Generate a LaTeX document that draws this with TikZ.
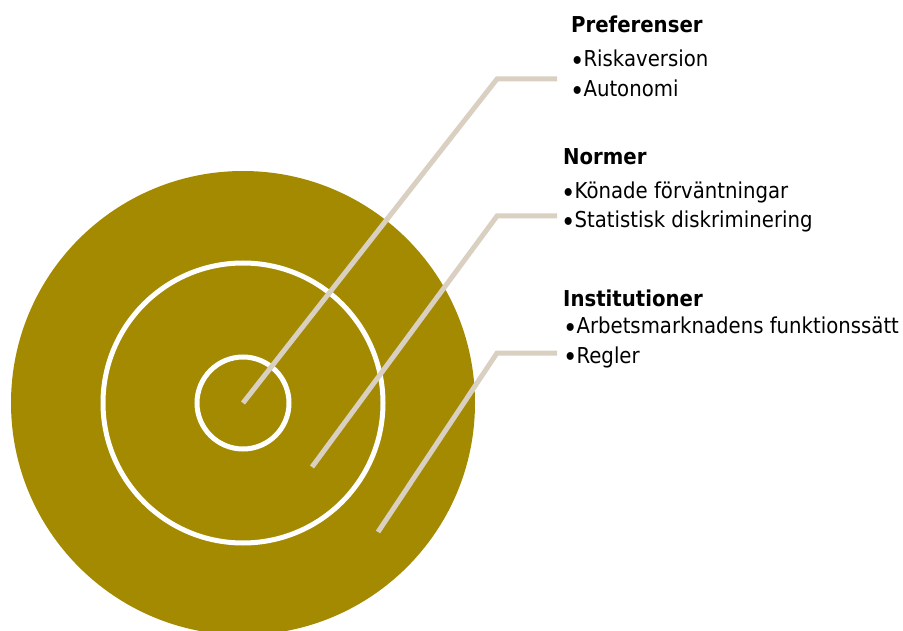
\documentclass[tikz,border=0pt]{standalone}
\usepackage{fontspec}
\setmainfont{DejaVu Sans}[FakeStretch=0.9]
\definecolor{gold}{HTML}{A38A00}
\definecolor{tan}{HTML}{D9D0C1}
\newcommand{\bul}{\raisebox{-3.5pt}{\fontsize{27}{27}\selectfont •}\kern-1pt}
\begin{document}
\begin{tikzpicture}[x=1pt,y=-1pt,
  ring/.style={circle,draw=white,line width=5pt,inner sep=0pt},
  leader/.style={draw=tan,line width=5pt},
  title/.style={anchor=base west,inner sep=0pt,font=\fontsize{21.9}{24}\selectfont\bfseries},
  item/.style={anchor=base west,inner sep=0pt,font=\fontsize{21.9}{24}\selectfont}]
\useasboundingbox (0,0) rectangle (903,631);
\clip (0,0) rectangle (903,631);
\node[circle,fill=gold,inner sep=0pt,minimum size=464pt] (outer) at (243,403) {};
\node[ring,minimum size=280pt] (middle) at (243,403) {};
\node[ring,minimum size=92pt] (inner) at (243,403) {};
\coordinate (s2) at (312,467);
\coordinate (s3) at (378,532);
\coordinate (c1) at (497,79);
\coordinate (e1) at (557,79);
\coordinate (c2) at (497,216);
\coordinate (e2) at (557,216);
\coordinate (c3) at (497,353);
\coordinate (e3) at (557,353);
\draw[leader] (inner.center) -- (c1) -- (e1);
\draw[leader] (s2) -- (c2) -- (e2);
\draw[leader] (s3) -- (c3) -- (e3);
\node[title] (t1) at (571,33) {Preferenser};
\node[item] (i11) at (570,67) {\bul Riskaversion};
\node[item] (i12) at (570,97) {\bul Autonomi};
\node[title] (t2) at (563,165) {Normer};
\node[item] (i21) at (561,199) {\bul Könade förväntningar};
\node[item] (i22) at (561,228) {\bul Statistisk diskriminering};
\node[title] (t3) at (563,307) {Institutioner};
\node[item] (i31) at (563,334) {\bul Arbetsmarknadens funktionssätt};
\node[item] (i32) at (563,363) {\bul Regler};
\end{tikzpicture}
\end{document}
